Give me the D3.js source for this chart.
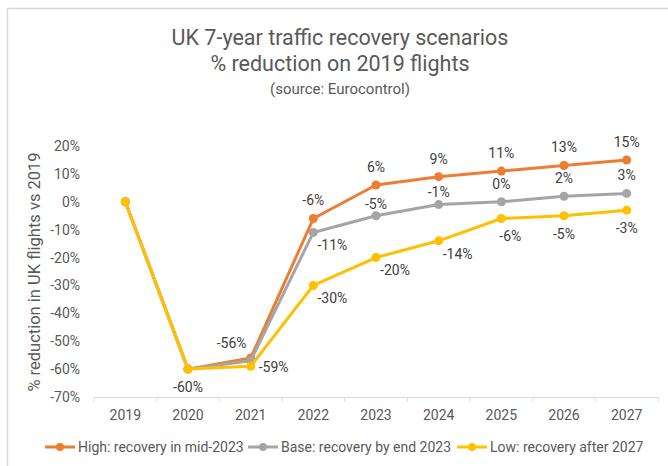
<!DOCTYPE html>
<html>
<head>
<meta charset="utf-8">
<script src="https://cdn.jsdelivr.net/npm/d3@7"></script>
<style>
  body { margin: 0; background: #fff; }
  text { font-family: Roboto, "Noto Sans", sans-serif; }
</style>
</head>
<body>
<svg id="chart" width="668" height="466"></svg>
<script>
var years = ["2019", "2020", "2021", "2022", "2023", "2024", "2025", "2026", "2027"];
var high = [0, -60, -56, -6, 6, 9, 11, 13, 15];
var base = [0, -60, -57, -11, -5, -1, 0, 2, 3];
var low = [0, -60, -59, -30, -20, -14, -6, -5, -3];
var yTicks = [20, 10, 0, -10, -20, -30, -40, -50, -60, -70];
var seriesNames = ["High: recovery in mid-2023", "Base: recovery by end 2023", "Low: recovery after 2027"];

// which points get a label, and where it sits
var highLab = ["", "", "al", "a", "a", "a", "a", "a", "a"];
var baseLab = ["", "", "", "br", "an", "an", "a", "a", "a"];
var lowLab = ["", "b", "r", "br", "br", "br", "bs", "b", "b"];

var svg = d3.select("#chart");

// frame edges
svg.append("line").attr("x1", 7.5).attr("x2", 7.5).attr("y1", 8).attr("y2", 466)
  .attr("stroke", "#d9d9d9").attr("stroke-width", 1.5);
svg.append("line").attr("x1", 7).attr("x2", 668).attr("y1", 8.5).attr("y2", 8.5)
  .attr("stroke", "#d9d9d9").attr("stroke-width", 1.5);

// titles
var titles = [["UK 7-year traffic recovery scenarios", 45, 21.5], ["% reduction on 2019 flights", 71, 21.5], ["(source: Eurocontrol)", 94, 15]];
titles.forEach(function(t) {
  svg.append("text").attr("x", 340).attr("y", t[1]).attr("text-anchor", "middle")
    .attr("font-size", t[2]).attr("fill", "#595959").text(t[0]);
});

var x = d3.scaleBand().domain(years).range([94, 658]);
var y = d3.scaleLinear().domain([-70, 20]).range([397, 146]);
var cx = function(i) { return x(years[i]) + x.bandwidth() / 2; };

// x axis
var xa = svg.append("g").attr("transform", "translate(0,397)")
  .call(d3.axisBottom(x).tickSize(0).tickPadding(13));
xa.select(".domain").attr("stroke", "#d9d9d9").attr("stroke-width", 1);
xa.selectAll("text").attr("font-size", 14).attr("fill", "#595959").attr("font-family", "Roboto");
svg.append("g").selectAll("line").data(d3.range(years.length + 1)).join("line")
  .attr("x1", function(d) { return 94 + d * x.step(); })
  .attr("x2", function(d) { return 94 + d * x.step(); })
  .attr("y1", 397).attr("y2", 402).attr("stroke", "#d9d9d9");

// y axis labels
var ya = svg.append("g").attr("transform", "translate(80,0)")
  .call(d3.axisLeft(y).tickValues(yTicks).tickSize(0).tickPadding(0)
    .tickFormat(function(d) { return d + "%"; }));
ya.select(".domain").remove();
ya.selectAll("text").attr("font-size", 14).attr("fill", "#595959").attr("font-family", "Roboto");

svg.append("text").attr("transform", "translate(40,272) rotate(-90)")
  .attr("text-anchor", "middle").attr("font-size", 16.5).attr("fill", "#595959")
  .text("% reduction in UK flights vs 2019");

var series = [
  {vals: high, color: "#ED7D31", lab: highLab},
  {vals: base, color: "#A5A5A5", lab: baseLab},
  {vals: low, color: "#FFC000", lab: lowLab}
];

var line = d3.line().x(function(d, i) { return cx(i); }).y(function(d) { return y(d); });

series.forEach(function(s) {
  svg.append("path").datum(s.vals).attr("d", line).attr("fill", "none")
    .attr("stroke", s.color).attr("stroke-width", 3).attr("stroke-linejoin", "round");
  svg.append("g").selectAll("circle").data(s.vals).join("circle")
    .attr("cx", function(d, i) { return cx(i); }).attr("cy", function(d) { return y(d); })
    .attr("r", 4.5).attr("fill", s.color);
});

var offs = {a: [0, -18], an: [0, -12], al: [-19, -15], b: [0, 18], br: [19, 13], bs: [9, 18], r: [23, 1]};
series.forEach(function(s) {
  s.vals.forEach(function(v, i) {
    var p = s.lab[i];
    if (!p) return;
    svg.append("text").attr("x", cx(i) + offs[p][0]).attr("y", y(v) + offs[p][1])
      .attr("dy", "0.35em").attr("text-anchor", "middle").attr("font-size", 14)
      .attr("fill", "#404040").text(v + "%");
  });
});

// legend
var lx = [45, 248, 457];
series.forEach(function(s, i) {
  var g = svg.append("g").attr("transform", "translate(" + lx[i] + ",447)");
  g.append("line").attr("x1", 0).attr("x2", 30).attr("stroke", s.color).attr("stroke-width", 3);
  g.append("circle").attr("cx", 15).attr("r", 4).attr("fill", s.color);
  g.append("text").attr("x", 33).attr("dy", "0.35em").attr("font-size", 14)
    .attr("fill", "#595959").text(seriesNames[i]);
});
</script>
</body>
</html>
